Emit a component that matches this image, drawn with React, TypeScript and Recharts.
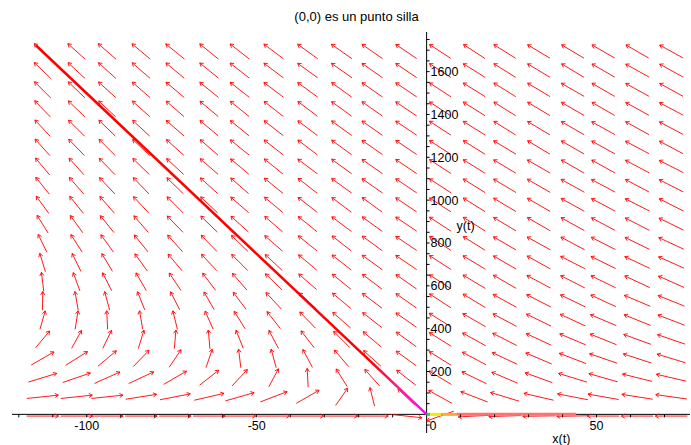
import { ScatterChart, Scatter, XAxis, YAxis, ReferenceLine, ReferenceDot } from 'recharts'

// grid of the direction field (arrow centres)
const xCenters = [-113, -103, -94, -84, -74, -64, -55, -45, -35, -25, -16, -6, 4, 14, 23, 33, 43, 52, 62, 72]
const yRows = [-8, 82, 171, 261, 350, 440, 530, 619, 709, 798, 888, 978, 1067, 1157, 1246, 1336, 1426, 1515, 1605, 1694]

// arrow direction as seen on screen, degrees counter-clockwise from +x (one row per yRows entry)
const arrowAngles = [
  [0, 0, 0, 0, 0, 0, 0, 0, 0, 0, 0, -6, 200, 183, 182, 181, 181, 180, 180, 180],
  [6, 6, 6, 9, 11, 13, 16, 21, 30, 55, 104, 136, 151, 159, 163, 167, 169, 170, 171, 172],
  [17, 19, 24, 25, 30, 38, 47, 62, 93, 122, 132, 142, 149, 154, 157, 160, 163, 164, 166, 167],
  [30, 32, 40, 46, 56, 71, 97, 105, 118, 131, 138, 144, 148, 152, 155, 157, 159, 161, 162, 163],
  [50, 61, 64, 73, 85, 95, 112, 118, 128, 135, 140, 144, 148, 151, 153, 155, 157, 158, 160, 161],
  [74, 81, 93, 100, 104, 114, 122, 128, 134, 139, 142, 145, 148, 150, 152, 154, 155, 157, 158, 159],
  [89, 100, 105, 112, 117, 120, 127, 133, 137, 140, 143, 145, 147, 149, 151, 153, 154, 155, 157, 158],
  [97, 110, 117, 120, 124, 127, 131, 136, 139, 141, 143, 145, 147, 149, 150, 152, 153, 154, 155, 156],
  [107, 116, 121, 126, 130, 133, 135, 137, 140, 142, 144, 146, 147, 149, 150, 151, 153, 154, 155, 156],
  [116, 123, 126, 129, 132, 134, 136, 139, 141, 142, 144, 146, 147, 148, 150, 151, 152, 153, 154, 155],
  [122, 126, 129, 131, 134, 136, 138, 139, 141, 143, 144, 146, 147, 148, 149, 150, 151, 152, 153, 154],
  [126, 129, 131, 133, 135, 137, 139, 140, 142, 143, 144, 146, 147, 148, 149, 150, 151, 152, 153, 153],
  [129, 131, 133, 134, 136, 138, 139, 141, 142, 144, 145, 146, 147, 148, 149, 150, 151, 152, 152, 153],
  [130, 132, 134, 136, 137, 139, 140, 141, 143, 144, 145, 146, 147, 148, 149, 150, 150, 151, 152, 153],
  [132, 134, 135, 137, 138, 139, 141, 142, 143, 144, 145, 146, 147, 148, 149, 149, 150, 151, 152, 152],
  [133, 135, 136, 137, 139, 140, 141, 142, 143, 144, 145, 146, 147, 148, 148, 149, 150, 151, 151, 152],
  [134, 136, 137, 138, 139, 140, 141, 142, 143, 144, 145, 146, 147, 148, 148, 149, 150, 150, 151, 152],
  [135, 136, 138, 139, 140, 141, 142, 143, 144, 144, 145, 146, 147, 148, 148, 149, 150, 150, 151, 151],
  [136, 137, 138, 139, 140, 141, 142, 143, 144, 145, 145, 146, 147, 148, 148, 149, 149, 150, 151, 151],
  [137, 138, 139, 140, 141, 141, 142, 143, 144, 145, 145, 146, 147, 147, 148, 149, 149, 150, 150, 151],
]

// trajectories
const stableX = [-115, 0]
const stableY = [1723, 0]
const unstableSegments = [
  [0, 1],
  [1, 4.3],
  [4.3, 9],
  [9, 44],
]
const unstableColors = ['#33cc66', '#eeee00', '#ffaa33', '#ff7070']

// axes
const xTicks = [-120, -110, -100, -90, -80, -70, -60, -50, -40, -30, -20, -10, 10, 20, 30, 40, 50, 60, 70]
const xLabels = [-100, -50, 0, 50]
const yTicks = [
  -50, 50, 100, 150, 200, 250, 300, 350, 400, 450, 500, 550, 600, 650, 700, 750, 800, 850, 900, 950,
  1000, 1050, 1100, 1150, 1200, 1250, 1300, 1350, 1400, 1450, 1500, 1550, 1600, 1650, 1700, 1750,
]
const yLabels = [200, 400, 600, 800, 1000, 1200, 1400, 1600]

const FONT = '"Liberation Sans", Arial, sans-serif'

const arrowData = yRows.flatMap((y, j) => xCenters.map((x, i) => ({ x, y, angle: arrowAngles[j][i] })))
const stableData = stableX.map((x, i) => ({ x, y: stableY[i] }))
const xTickData = xTicks.map((x) => ({ x, y: 0 }))
const yTickData = yTicks.map((y) => ({ x: 0, y }))

function Arrow(props: any) {
  const { cx, cy, payload } = props
  const a = (payload.angle * Math.PI) / 180
  const dx = Math.cos(a)
  const dy = -Math.sin(a)
  const len = 0.97 / Math.hypot(dx / 33, dy / 19.3)
  const hx = cx + (dx * len) / 2
  const hy = cy + (dy * len) / 2
  const tx = cx - (dx * len) / 2
  const ty = cy - (dy * len) / 2
  const b = 0.55
  const bl = 4
  const r1x = dx * Math.cos(b) - dy * Math.sin(b)
  const r1y = dx * Math.sin(b) + dy * Math.cos(b)
  const r2x = dx * Math.cos(-b) - dy * Math.sin(-b)
  const r2y = dx * Math.sin(-b) + dy * Math.cos(-b)
  const d = `M${tx},${ty}L${hx},${hy}M${hx - bl * r1x},${hy - bl * r1y}L${hx},${hy}L${hx - bl * r2x},${hy - bl * r2y}`
  return <path d={d} stroke="#ff0000" strokeWidth={0.9} fill="none" />
}

const XTick = (p: any) => <line x1={p.cx} y1={p.cy} x2={p.cx} y2={p.cy + 3} stroke="#000" />
const YTick = (p: any) => <line x1={p.cx} y1={p.cy} x2={p.cx + 3} y2={p.cy} stroke="#000" />
const NoDot = () => <g />

export default function App() {
  return (
    <div style={{ position: 'absolute', left: 0, top: 0, width: 691, height: 445, background: '#fff' }}>
      <div
        style={{
          position: 'absolute',
          left: 0,
          top: 9,
          width: 713,
          textAlign: 'center',
          fontFamily: FONT,
          fontSize: 13,
          color: '#000',
          lineHeight: '15px',
        }}
      >
        (0,0) es un punto silla
      </div>
      <ScatterChart width={691} height={445} margin={{ top: 32, right: 1, bottom: 12, left: 12 }}>
        <defs>
          <linearGradient id="stableGrad" x1="0" y1="0" x2="1" y2="1">
            <stop offset="0" stopColor="#ff0000" />
            <stop offset="0.86" stopColor="#ff0000" />
            <stop offset="0.93" stopColor="#ff1e8c" />
            <stop offset="1" stopColor="#ff00ff" />
          </linearGradient>
        </defs>
        <XAxis type="number" dataKey="x" domain={[-122, 77.5]} allowDataOverflow hide />
        <YAxis type="number" dataKey="y" domain={[-87, 1785]} allowDataOverflow hide />
        <Scatter data={arrowData} shape={Arrow} isAnimationActive={false} />
        <Scatter
          data={stableData}
          shape={NoDot}
          line={{ stroke: 'url(#stableGrad)', strokeWidth: 2.5 }}
          isAnimationActive={false}
        />
        {unstableSegments.map((seg, i) => (
          <Scatter
            key={i}
            data={seg.map((x) => ({ x, y: 0 }))}
            shape={NoDot}
            line={{ stroke: unstableColors[i], strokeWidth: 3 }}
            isAnimationActive={false}
          />
        ))}
        <ReferenceLine x={0} stroke="#000" strokeWidth={1} />
        <ReferenceLine y={0} stroke="#000" strokeWidth={1} />
        <Scatter data={xTickData} shape={XTick} isAnimationActive={false} />
        <Scatter data={yTickData} shape={YTick} isAnimationActive={false} />
        {xLabels.map((v) => (
          <ReferenceDot
            key={`xl${v}`}
            x={v}
            y={0}
            r={0}
            ifOverflow="visible"
            shape={(p: any) => (
              <text
                x={p.cx + (v === 0 ? 3 : 0)}
                y={p.cy + 15.5}
                textAnchor={v === 0 ? 'start' : 'middle'}
                fontFamily={FONT}
                fontSize={12.5}
                fill="#000"
              >
                {v}
              </text>
            )}
          />
        ))}
        {yLabels.map((v) => (
          <ReferenceDot
            key={`yl${v}`}
            x={0}
            y={v}
            r={0}
            ifOverflow="visible"
            shape={(p: any) => (
              <text x={p.cx + 4} y={p.cy + 4.5} textAnchor="start" fontFamily={FONT} fontSize={12.5} fill="#000">
                {v}
              </text>
            )}
          />
        ))}
        <ReferenceDot
          x={0}
          y={880}
          r={0}
          ifOverflow="visible"
          shape={(p: any) => (
            <text x={p.cx + 30} y={p.cy + 4} fontFamily={FONT} fontSize={12.5} fill="#000">
              y(t)
            </text>
          )}
        />
        <ReferenceDot
          x={37}
          y={0}
          r={0}
          ifOverflow="visible"
          shape={(p: any) => (
            <text x={p.cx} y={p.cy + 28.5} fontFamily={FONT} fontSize={12.5} fill="#000">
              x(t)
            </text>
          )}
        />
      </ScatterChart>
    </div>
  )
}
